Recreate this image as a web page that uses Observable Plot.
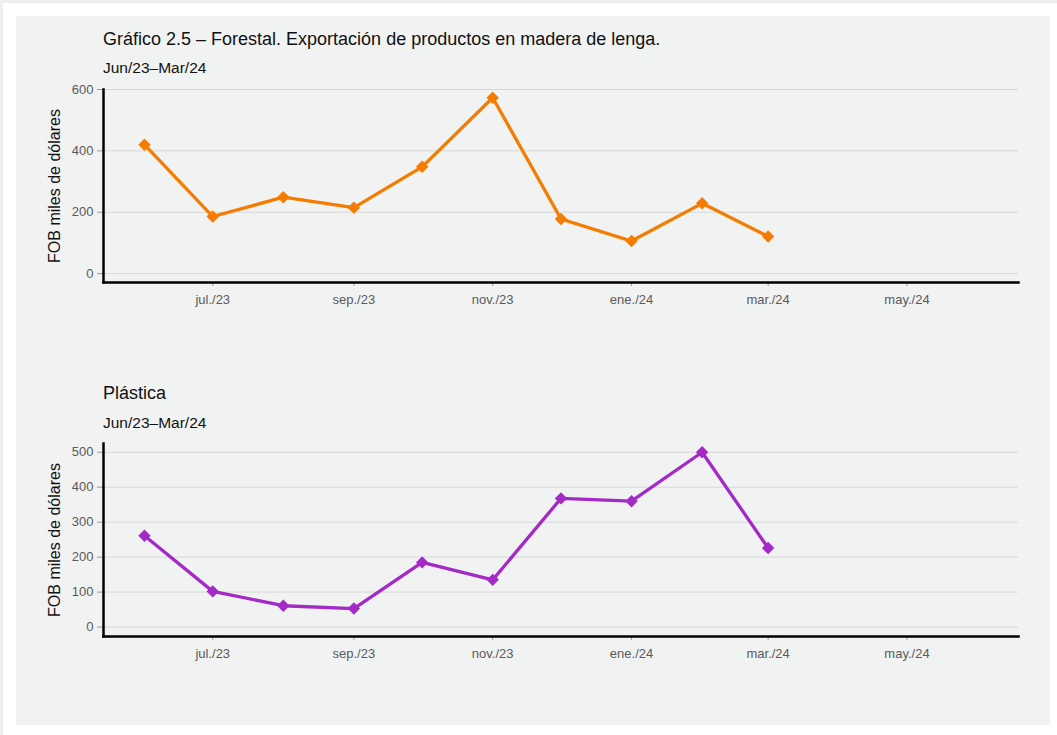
<!DOCTYPE html>
<html>
<head>
<meta charset="utf-8">
<script src="https://cdn.jsdelivr.net/npm/d3@7"></script>
<script src="https://cdn.jsdelivr.net/npm/@observablehq/plot@0.6"></script>
<style>
  html, body { margin: 0; padding: 0; background: #efefef; width: 1057px; height: 735px; overflow: hidden; }
  #page { position: absolute; left: 3px; top: 3px; width: 1054px; height: 732px; background: #ffffff; }
  #panel { position: absolute; left: 16px; top: 16px; width: 1034px; height: 709px; background: #f1f2f2; }
  .abs { position: absolute; font-family: "Liberation Sans", Arial, sans-serif; white-space: nowrap; color: #111; }
  .title { font-size: 18px; line-height: 18px; }
  .subtitle { font-size: 15.5px; line-height: 15.5px; }
  svg { position: absolute; font-family: "Liberation Sans", Arial, sans-serif; }
</style>
</head>
<body>
<div id="page"></div>
<div id="panel"></div>
<div class="abs title" style="left:103px; top:30px;">Gráfico 2.5 – Forestal. Exportación de productos en madera de lenga.</div>
<div class="abs subtitle" style="left:103px; top:60px;">Jun/23–Mar/24</div>
<div class="abs title" style="left:103px; top:384px;">Plástica</div>
<div class="abs subtitle" style="left:103px; top:414.5px;">Jun/23–Mar/24</div>
<div id="chart1"></div>
<div id="chart2"></div>
<script>
// ---- data ----
const months = ["2023-06-01","2023-07-01","2023-08-01","2023-09-01","2023-10-01","2023-11-01","2023-12-01","2024-01-01","2024-02-01","2024-03-01"];
const lengaValues = [420, 186, 249, 215, 348, 573, 178, 106, 229, 121];
const plasticaValues = [261, 102, 61, 53, 185, 135, 368, 360, 500, 226];
const xTickDates = ["2023-07-01","2023-09-01","2023-11-01","2024-01-01","2024-03-01","2024-05-01"];
const xTickLabels = ["jul./23","sep./23","nov./23","ene./24","mar./24","may./24"];
const yTicksTop = [0, 200, 400, 600];
const yTicksBottom = [0, 100, 200, 300, 400, 500];
const yLabel = "FOB miles de dólares";

const xDomain = [new Date("2023-05-14"), new Date("2024-06-19")];
const tickDates = xTickDates.map(d => new Date(d));
const fmt = d => xTickLabels[tickDates.findIndex(t => +t === +d)];

function makeChart(values, color, yDomain, yTicks, top) {
  const data = months.map((m, i) => ({date: new Date(m), value: values[i]}));
  const svg = Plot.plot({
    width: 1034,
    height: 230,
    marginLeft: 87,
    marginRight: 32,
    marginTop: 9,
    marginBottom: 28,
    style: {background: "transparent", fontSize: "13px", fontFamily: "Liberation Sans, Arial, sans-serif"},
    x: {type: "utc", domain: xDomain},
    y: {domain: yDomain},
    marks: [
      Plot.gridY(yTicks, {stroke: "#d8d8d8", strokeOpacity: 1, strokeWidth: 1}),
      Plot.axisY(yTicks, {tickSize: 6, tickPadding: 4, stroke: "#9a9a9a", fill: "#5a5a5a", label: null}),
      Plot.axisX(tickDates, {tickSize: 4, tickPadding: 8, stroke: "#9a9a9a", fill: "#5a5a5a", tickFormat: fmt, label: null}),
      Plot.frame({anchor: "left", stroke: "#000", strokeWidth: 2.5}),
      Plot.frame({anchor: "bottom", stroke: "#000", strokeWidth: 2.5}),
      Plot.text([yLabel], {frameAnchor: "left", rotate: -90, dx: -49, fontSize: 16, fill: "#111", textAnchor: "middle"}),
      Plot.line(data, {x: "date", y: "value", stroke: color, strokeWidth: 3.3}),
      Plot.dot(data, {x: "date", y: "value", symbol: "diamond2", r: 5.6, fill: color, stroke: "none"})
    ]
  });
  svg.style.left = "16px";
  svg.style.top = top + "px";
  return svg;
}

document.getElementById("chart1").appendChild(makeChart(lengaValues, "#f57c00", [-29, 600], yTicksTop, 80));
document.getElementById("chart2").appendChild(makeChart(plasticaValues, "#a42ac6", [-27, 525], yTicksBottom, 434));
</script>
</body>
</html>
